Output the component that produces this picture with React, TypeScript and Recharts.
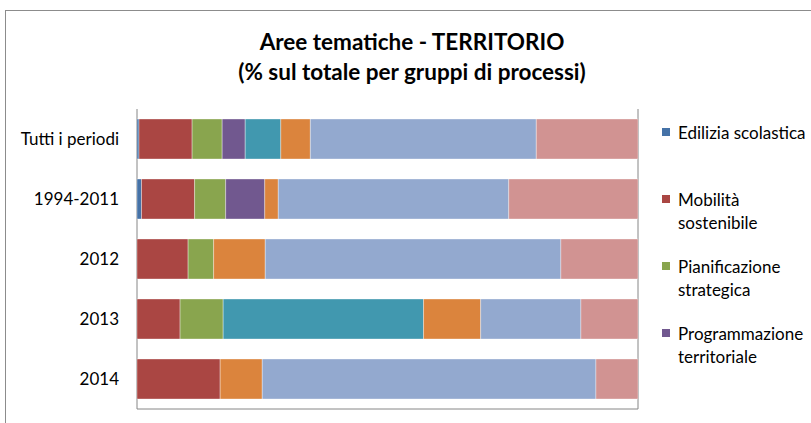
import React from 'react';
import { BarChart, Bar, XAxis, YAxis, CartesianGrid, Legend } from 'recharts';

const FONT = 'Lato, "Open Sans", sans-serif';

const categories = ['Tutti i periodi', '1994-2011', '2012', '2013', '2014'];
const seriesNames = [
  'Edilizia scolastica',
  'Mobilità sostenibile',
  'Pianificazione strategica',
  'Programmazione territoriale',
  'Riqualificazione urbana',
  'Sostenibilità ambientale',
  'Sviluppo locale',
  'Altro',
];
const seriesColors = ['#4572A7', '#AA4643', '#89A54E', '#71588F', '#4198AF', '#DB843D', '#93A9CF', '#D19392'];

const edilizia = [0.4, 0.9, 0, 0, 0];
const mobilita = [10.6, 10.6, 10.2, 8.6, 16.6];
const pianificazione = [6.0, 6.2, 5.1, 8.6, 0];
const programmazione = [4.6, 7.8, 0, 0, 0];
const riqualificazione = [7.1, 0, 0, 40.0, 0];
const ambiente = [5.9, 2.7, 10.3, 11.4, 8.4];
const sviluppo = [45.1, 46.0, 59.0, 20.0, 66.6];
const altro = [20.3, 25.8, 15.4, 11.4, 8.4];

const seriesValues = [edilizia, mobilita, pianificazione, programmazione, riqualificazione, ambiente, sviluppo, altro];
const xTicks = [0, 25, 50, 75, 100];
const boundaryTicks = [0, 1, 2, 3, 4, 5];

const data = categories.map((name, i) => {
  const row: Record<string, string | number> = { name };
  seriesNames.forEach((s, k) => {
    row[s] = seriesValues[k][i];
  });
  return row;
});

const GRAY = '#868686';

const renderLegend = (props: any) => {
  const payload: any[] = props.payload || [];
  const shown = seriesNames.slice(0, 4).map((n) => payload.find((p) => p.value === n)).filter(Boolean);
  return (
    <div style={{ fontFamily: FONT, fontSize: 17, color: '#000' }}>
      {shown.map((p: any, i: number) => (
        <div key={i} style={{ display: 'flex', height: 67, alignItems: 'flex-start' }}>
          <span
            style={{ width: 8, height: 8, background: p.color, marginTop: 7, marginLeft: 7, marginRight: 8, flex: 'none' }}
          />
          <span style={{ lineHeight: '23px', width: 133 }}>{p.value}</span>
        </div>
      ))}
    </div>
  );
};

export default function App() {
  return (
    <div style={{ position: 'absolute', left: 0, top: 0, width: 811, height: 423, overflow: 'hidden', background: '#fff' }}>
      <div
        style={{
          position: 'absolute',
          left: 5,
          top: 10,
          width: 900,
          height: 600,
          border: '1px solid #8c8c8c',
          boxSizing: 'border-box',
        }}
      />
      <div
        style={{
          position: 'absolute',
          left: 5,
          top: 27,
          width: 814,
          textAlign: 'center',
          fontFamily: FONT,
          fontWeight: 'bold',
          fontSize: 22.5,
          lineHeight: '30px',
          color: '#000',
        }}
      >
        <div>Aree tematiche - TERRITORIO</div>
        <div>(% sul totale per gruppi di processi)</div>
      </div>
      <div style={{ position: 'absolute', left: 0, top: 0 }}>
        <BarChart
          width={811}
          height={423}
          data={data}
          layout="vertical"
          margin={{ top: 109, right: 17, bottom: 0, left: 0 }}
          barCategoryGap="16.67%"
        >
          <CartesianGrid horizontal={false} vertical stroke={GRAY} strokeWidth={1} />
          <XAxis
            type="number"
            domain={[0, 100]}
            ticks={xTicks}
            tick={false}
            tickLine={{ stroke: GRAY }}
            tickSize={5}
            axisLine={{ stroke: GRAY }}
            height={14}
            allowDataOverflow
          />
          <YAxis
            yAxisId="bounds"
            type="number"
            domain={[0, 5]}
            ticks={boundaryTicks}
            tick={false}
            tickLine={{ stroke: GRAY }}
            tickSize={6}
            axisLine={{ stroke: GRAY }}
            width={0}
            allowDataOverflow
          />
          <YAxis
            yAxisId="cat"
            type="category"
            dataKey="name"
            width={137}
            axisLine={false}
            tickLine={false}
            tickSize={6}
            tickMargin={12}
            tick={{ fill: '#000', fontSize: 17, fontFamily: FONT }}
          />
          <Legend
            layout="vertical"
            align="right"
            verticalAlign="top"
            content={renderLegend}
            wrapperStyle={{ position: 'absolute', left: 655, top: 121, width: 156, height: 280 }}
          />
          {seriesNames.map((s, k) => (
            <Bar
              key={s}
              dataKey={s}
              name={s}
              yAxisId="cat"
              stackId="a"
              fill={seriesColors[k]}
              stroke="#ffffff"
              strokeOpacity={0.35}
              strokeWidth={1}
              isAnimationActive={false}
            />
          ))}
        </BarChart>
      </div>
    </div>
  );
}
